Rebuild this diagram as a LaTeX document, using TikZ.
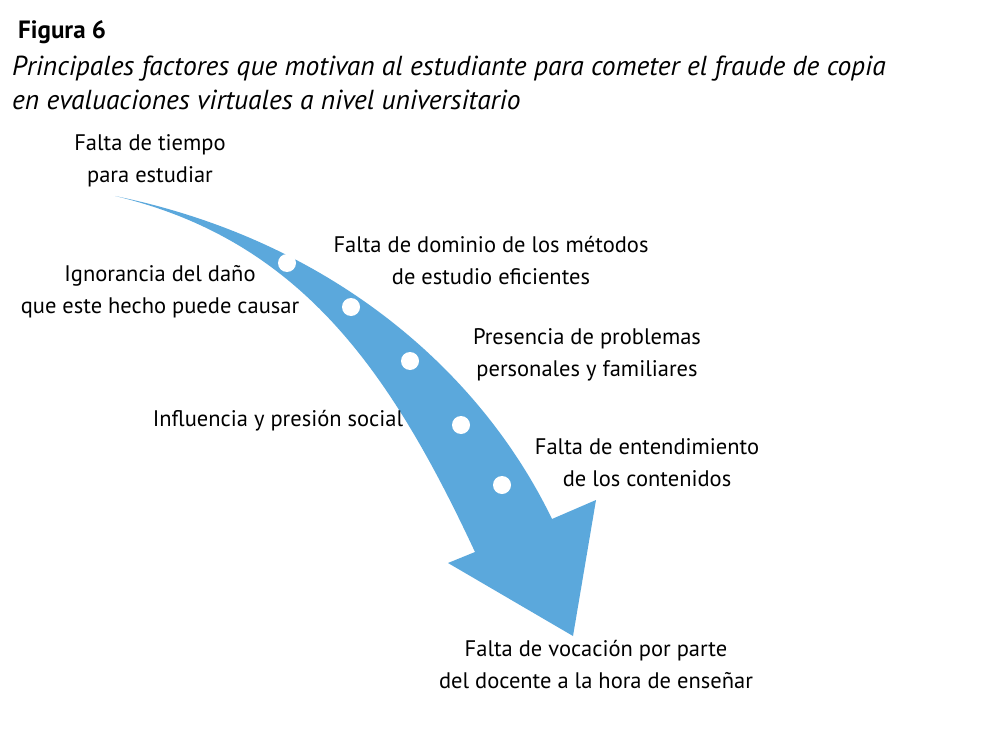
\documentclass[tikz,border=0pt]{standalone}
\usepackage{fontspec}
\setmainfont{PT Sans}
\definecolor{arrowblue}{HTML}{5BA8DC}
\begin{document}
\begin{tikzpicture}[x=1pt,y=-1pt,
  lbl/.style={align=center,font=\fontsize{22.5}{32}\selectfont,inner sep=0pt},
  dot/.style={circle,fill=white,minimum size=18pt,inner sep=0pt}]
\useasboundingbox (0,0) rectangle (998,746);
\fill[white] (0,0) rectangle (998,746);
\node[anchor=base west,font=\fontsize{25}{28}\selectfont\bfseries,inner sep=0pt] (t0) at (18,39) {Figura 6};
\node[anchor=base west,font=\fontsize{27.5}{30}\selectfont\itshape,inner sep=0pt] (t1) at (12,76) {Principales factores que motivan al estudiante para cometer el fraude de copia};
\node[anchor=base west,font=\fontsize{27.5}{30}\selectfont\itshape,inner sep=0pt] (t2) at (12,110) {en evaluaciones virtuales a nivel universitario};
\fill[arrowblue] (115,196) .. controls (330,240) and (480,370) .. (552,519)
  -- (596,500) -- (573,636) -- (448,563) -- (475,552)
  .. controls (390,370) and (300,240) .. (115,196) -- cycle;
\foreach \n/\x/\y in {d1/287/263,d2/351/307,d3/410/361,d4/461/425,d5/502/485}
  \node[dot] (\n) at (\x,\y) {};
\node[lbl] (a) at (150,161) {Falta de tiempo\\para estudiar};
\node[lbl] (b) at (491,261) {Falta de dominio de los métodos\\de estudio eficientes};
\node[lbl] (c) at (160,292) {Ignorancia del daño\\que este hecho puede causar};
\node[lbl] (d) at (587,355) {Presencia de problemas\\personales y familiares};
\node[lbl] (e) at (278,421) {Influencia y presión social};
\node[lbl] (f) at (647,463) {Falta de entendimiento\\de los contenidos};
\node[lbl] (g) at (596,665) {Falta de vocación por parte\\del docente a la hora de enseñar};
\end{tikzpicture}
\end{document}
